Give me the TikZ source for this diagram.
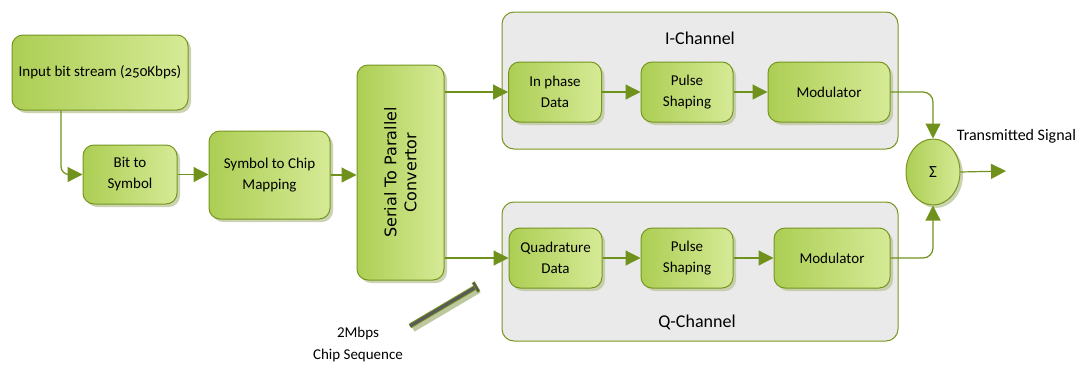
\documentclass[tikz,border=0pt]{standalone}
\usepackage{fontspec}
\setmainfont{Carlito}
\newfontfamily\spfont{DejaVu Sans}
\usetikzlibrary{shapes.geometric,shadows,arrows.meta,calc}
\definecolor{boxA}{RGB}{172,206,84}
\definecolor{boxB}{RGB}{214,234,150}
\definecolor{olive}{RGB}{118,150,32}
\definecolor{arrc}{RGB}{112,146,28}
\definecolor{contfill}{RGB}{234,234,234}
\definecolor{shad}{RGB}{190,200,160}
\begin{document}
\begin{tikzpicture}[x=1pt,y=-1pt,
  blk/.style={draw=olive,line width=1pt,rounded corners=11pt,left color=boxA,right color=boxB,
     drop shadow={shadow xshift=3pt,shadow yshift=-3pt,fill=shad,opacity=0.8},
     align=center,font=\fontsize{15}{21}\selectfont,inner sep=0pt},
  cont/.style={draw=olive,line width=1pt,rounded corners=12pt,fill=contfill},
  arr/.style={draw=arrc,line width=1.2pt,-{Triangle[length=15pt,width=15pt]}},
  lbl/.style={align=center}]
\useasboundingbox (0,0) rectangle (1078,365);
% containers
\node[cont,minimum width=396pt,minimum height=137pt] (ich) at (700,80.5) {};
\node[cont,minimum width=396pt,minimum height=139pt] (qch) at (700,271.5) {};
\node[font=\fontsize{18}{20}\selectfont] (ilab) at (700,38) {I-Channel};
\node[font=\fontsize{18}{20}\selectfont] (qlab) at (697,322) {Q-Channel};
% blocks
\node[blk,minimum width=176pt,minimum height=75pt] (in) at (100,72.5) {Input bit stream (\addfontfeatures{Numbers=OldStyle}250Kbps)};
\node[blk,minimum width=94pt,minimum height=59pt] (bit) at (130,174.5) {Bit to\\Symbol};
\node[blk,minimum width=121pt,minimum height=88pt] (sym) at (269.5,175) {Symbol to Chip\\Mapping};
\node[blk,minimum width=87pt,minimum height=215pt] (sp) at (400.5,172.5) {};
\node[rotate=90,align=center,font=\spfont\fontsize{16}{20}\selectfont] (sptxt) at (400.5,172.5) {Serial To Parallel\\Convertor};
\node[blk,minimum width=93pt,minimum height=60pt] (ipd) at (555,92) {In phase\\Data};
\node[blk,minimum width=92pt,minimum height=60pt] (ips) at (687,92) {Pulse\\Shaping};
\node[blk,minimum width=122pt,minimum height=60pt] (imod) at (829,92) {Modulator};
\node[blk,minimum width=93pt,minimum height=60pt] (qd) at (555.5,258) {Quadrature\\Data};
\node[blk,minimum width=92pt,minimum height=60pt] (qps) at (687,258) {Pulse\\Shaping};
\node[blk,minimum width=116pt,minimum height=60pt] (qmod) at (832,258) {Modulator};
\node[blk,ellipse,rounded corners=0pt,minimum width=54pt,minimum height=66pt,font=\fontsize{17}{20}\selectfont] (sum) at (933,172) {Σ};
\node[lbl,font=\fontsize{16}{20}\selectfont] (tx) at (1016.5,136) {Transmitted Signal};
\node[lbl,font=\fontsize{15}{22}\selectfont] (chip) at (358,344) {2Mbps\\Chip Sequence};
% connectors
\draw[arr,rounded corners=8pt] ([xshift=-39pt]in.south) |- (bit.west);
\draw[arr] (bit.east) -- (bit.east -| sym.west);
\draw[arr] (sym.east) -- (sym.east -| sp.west);
\draw[arr] (sp.east |- ipd.west) -- (ipd.west);
\draw[arr] (sp.east |- qd.west) -- (qd.west);
\draw[arr] (ipd.east) -- (ips.west);
\draw[arr] (ips.east) -- (imod.west);
\draw[arr] (qd.east) -- (qps.west);
\draw[arr] (qps.east) -- (qmod.west);
\draw[arr,rounded corners=10pt] (imod.east) -| (sum.north);
\draw[arr,rounded corners=10pt] (qmod.east) -| (sum.south);
\coordinate (out) at (1006,171);
\draw[arr] (sum.east) -- (out);
% pin
\coordinate (pinA) at (410,326);
\coordinate (pinB) at (476,287);
\draw[shad,line width=6pt] ($(pinA)+(3,3)$) -- ($(pinB)+(3,3)$);
\draw[olive,line width=5pt] (pinA) -- (pinB);
\draw[black!65,line width=3pt] (pinA) -- (pinB);
\draw[olive,line width=3.5pt] ($(pinB)+(2.8,4.8)$) -- ($(pinB)+(-2.8,-4.8)$);
\draw[black!65,line width=2pt] ($(pinB)+(2.5,4.3)$) -- ($(pinB)+(-2.5,-4.3)$);
\end{tikzpicture}
\end{document}
